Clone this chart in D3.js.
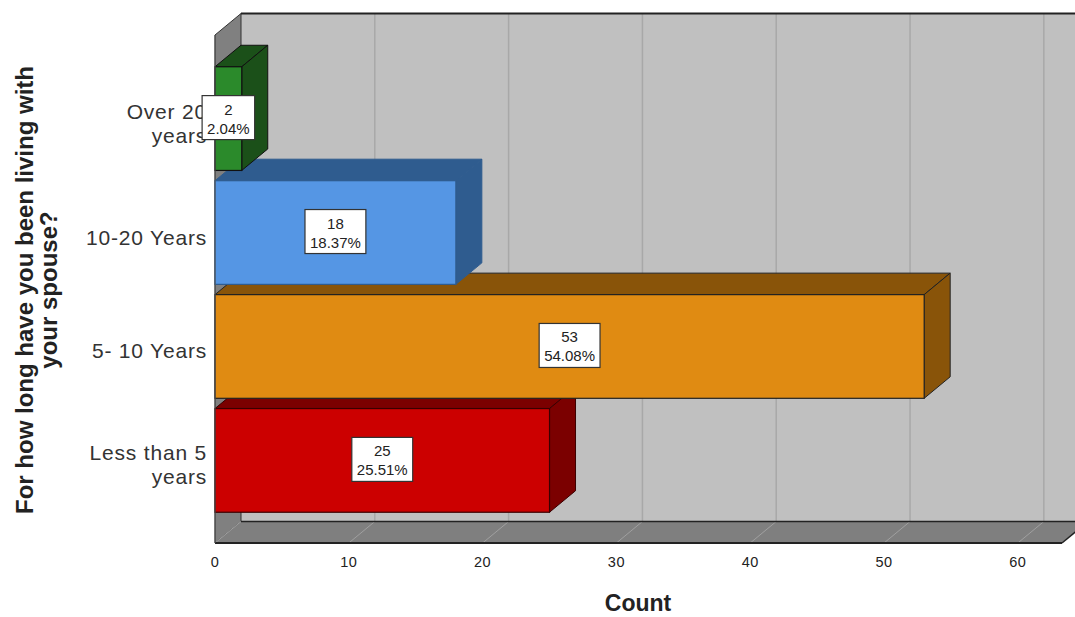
<!DOCTYPE html>
<html>
<head>
<meta charset="utf-8">
<script src="https://cdn.jsdelivr.net/npm/d3@7"></script>
<style>
  html, body { margin: 0; padding: 0; background: #fff; }
  svg { display: block; font-family: "Liberation Sans", Arial, sans-serif; }
</style>
</head>
<body>
<svg id="chart" width="1075" height="617"></svg>
<script>
// categories top to bottom, as in the picture
var categories = ['Over 20 years', '10-20 Years', '5- 10 Years', 'Less than 5 years'];
var categoryLines = [['Over 20', 'years'], ['10-20 Years'], ['5- 10 Years'], ['Less than 5', 'years']];
var counts = [2, 18, 53, 25];
var percents = ['2.04%', '18.37%', '54.08%', '25.51%'];
var xTicks = [0, 10, 20, 30, 40, 50, 60];

var frontColors = ['#2b8a2b', '#5596e4', '#e08b12', '#cc0000'];
var darkColors = ['#1b5019', '#2f5c8f', '#895409', '#7b0000'];
var edgeColors = ['#111', '#2f5c8f', '#222', '#3a0000'];

var svg = d3.select('#chart');

// 3d offset of the back plane
var DX = 26, DY = 21.5;
var frontTop = 35, frontBottom = 543;

var x = d3.scaleLinear().domain([0, 63.3]).range([215, 1062]);
var y = d3.scaleBand().domain(categories).range([frontTop + 1, frontBottom])
  .paddingInner(0.09).paddingOuter(0.27);

var poly = function(pts) { return 'M' + pts.map(function(p) { return p.join(','); }).join('L') + 'Z'; };

var x0 = x(0), x1 = x.range()[1];

// back wall
svg.append('rect')
  .attr('x', x0 + DX).attr('y', frontTop - DY)
  .attr('width', 1100 - x0 - DX).attr('height', frontBottom - frontTop)
  .attr('fill', '#c0c0c0');

// left wall
svg.append('path')
  .attr('d', poly([[x0, frontTop], [x0 + DX, frontTop - DY], [x0 + DX, frontBottom - DY], [x0, frontBottom]]))
  .attr('fill', '#808080').attr('stroke', '#333').attr('stroke-width', 1);

// floor
svg.append('path')
  .attr('d', poly([[x0, frontBottom], [x0 + DX, frontBottom - DY], [x1 + DX, frontBottom - DY], [x1, frontBottom]]))
  .attr('fill', '#7f7f7f');

// gridlines on back wall and floor
xTicks.forEach(function(t) {
  if (t === 0) return;
  svg.append('line')
    .attr('x1', x(t) + DX).attr('x2', x(t) + DX)
    .attr('y1', frontTop - DY).attr('y2', frontBottom - DY)
    .attr('stroke', '#a8a8a8').attr('stroke-width', 1.5);
});
xTicks.forEach(function(t) {
  svg.append('line')
    .attr('x1', x(t)).attr('y1', frontBottom)
    .attr('x2', x(t) + DX).attr('y2', frontBottom - DY)
    .attr('stroke', '#a0a0a0').attr('stroke-width', 1);
});

// wall edges
svg.append('line')
  .attr('x1', x0 + DX).attr('x2', 1075)
  .attr('y1', frontTop - DY).attr('y2', frontTop - DY)
  .attr('stroke', '#222').attr('stroke-width', 2);
svg.append('line')
  .attr('x1', x0 + DX).attr('x2', x1 + DX)
  .attr('y1', frontBottom - DY).attr('y2', frontBottom - DY)
  .attr('stroke', '#222').attr('stroke-width', 1.5);
svg.append('line')
  .attr('x1', x0).attr('x2', x1)
  .attr('y1', frontBottom).attr('y2', frontBottom)
  .attr('stroke', '#222').attr('stroke-width', 2);
svg.append('line')
  .attr('x1', x1).attr('y1', frontBottom)
  .attr('x2', x1 + DX).attr('y2', frontBottom - DY)
  .attr('stroke', '#222').attr('stroke-width', 1.5);

// bars, drawn bottom first so upper bars hide the top faces below them
var order = d3.range(categories.length).reverse();
order.forEach(function(i) {
  var c = categories[i];
  var yt = y(c), yb = y(c) + y.bandwidth();
  var bx0 = x(0), bx1 = x(counts[i]);
  var g = svg.append('g');

  g.append('path')
    .attr('d', poly([[bx0, yt], [bx0 + DX, yt - DY], [bx1 + DX, yt - DY], [bx1, yt]]))
    .attr('fill', darkColors[i]).attr('stroke', edgeColors[i]).attr('stroke-width', 1);
  g.append('path')
    .attr('d', poly([[bx1, yt], [bx1 + DX, yt - DY], [bx1 + DX, yb - DY], [bx1, yb]]))
    .attr('fill', darkColors[i]).attr('stroke', edgeColors[i]).attr('stroke-width', 1);
  g.append('rect')
    .attr('x', bx0).attr('y', yt)
    .attr('width', bx1 - bx0).attr('height', yb - yt)
    .attr('fill', frontColors[i]).attr('stroke', edgeColors[i]).attr('stroke-width', 1.2);
});

// front left edge
svg.append('line')
  .attr('x1', x0).attr('x2', x0)
  .attr('y1', frontTop).attr('y2', frontBottom)
  .attr('stroke', '#555').attr('stroke-width', 1);

// category labels
categories.forEach(function(c, i) {
  var lines = categoryLines[i];
  var cy = y(c) + y.bandwidth() / 2;
  var lh = 24;
  var t = svg.append('text')
    .attr('text-anchor', 'end')
    .attr('font-size', 21)
    .attr('letter-spacing', 0.8)
    .attr('fill', '#333');
  lines.forEach(function(l, k) {
    t.append('tspan')
      .attr('x', 207)
      .attr('y', cy + (k - (lines.length - 1) / 2) * lh + 12)
      .text(l);
  });
});

// value labels
categories.forEach(function(c, i) {
  var cx = (x(0) + x(counts[i])) / 2;
  var cy = y(c) + y.bandwidth() / 2;
  var g = svg.append('g');
  var box = g.append('rect').attr('fill', '#fff').attr('stroke', '#333').attr('stroke-width', 1.2);
  var t1 = g.append('text').attr('x', cx).attr('y', cy - 4)
    .attr('text-anchor', 'middle').attr('font-size', 15).attr('fill', '#222').text(counts[i]);
  var t2 = g.append('text').attr('x', cx).attr('y', cy + 15)
    .attr('text-anchor', 'middle').attr('font-size', 15).attr('fill', '#222').text(percents[i]);
  var w = Math.max(t1.node().getComputedTextLength(), t2.node().getComputedTextLength()) + 10;
  box.attr('x', cx - w / 2).attr('y', cy - 23).attr('width', w).attr('height', 44);
});

// x tick labels
svg.append('g').selectAll('text')
  .data(xTicks)
  .join('text')
  .attr('x', function(d) { return x(d); })
  .attr('y', 567)
  .attr('text-anchor', 'middle')
  .attr('font-size', 14.5)
  .attr('letter-spacing', 0.5)
  .attr('fill', '#222')
  .text(function(d) { return d; });

// axis titles
svg.append('text')
  .attr('x', 638).attr('y', 611)
  .attr('text-anchor', 'middle')
  .attr('font-size', 23).attr('font-weight', 'bold').attr('fill', '#222')
  .text('Count');

var yt = svg.append('text')
  .attr('transform', 'translate(0,290) rotate(-90)')
  .attr('text-anchor', 'middle')
  .attr('font-size', 24).attr('font-weight', 'bold').attr('fill', '#222');
yt.append('tspan').attr('x', 0).attr('y', 33).text('For how long have you been living with');
yt.append('tspan').attr('x', 0).attr('y', 57).text('your spouse?');
</script>
</body>
</html>
